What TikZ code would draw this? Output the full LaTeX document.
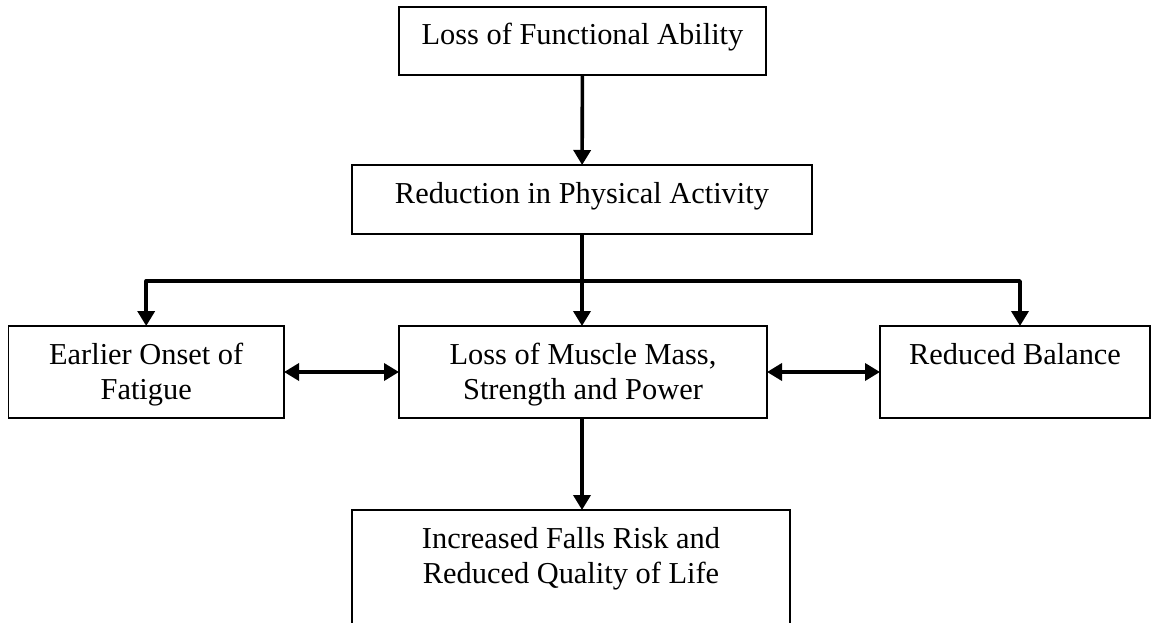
\documentclass[tikz,border=0pt]{standalone}
\usepackage{fontspec}
\setmainfont{Liberation Serif}
\usetikzlibrary{arrows.meta}
\newcommand{\bx}[3]{\parbox[c][#2][t]{#1}{\centering\rule{0pt}{38pt}#3\par}}
\begin{document}
\begin{tikzpicture}[x=1pt,y=-1pt,
  box/.style={draw, line width=1.4pt, inner sep=0pt, outer sep=0pt, font=\fontsize{30.4}{35}\selectfont},
  conn/.style={line width=3.6pt, line join=round},
  arr/.style={conn, -{Triangle[length=15pt,width=17pt]}},
  darr/.style={conn, {Triangle[length=15pt,width=17pt]}-{Triangle[length=15pt,width=17pt]}}]
\path[use as bounding box, clip] (0,0) rectangle (1151,623);

\node[box] (a) at (582.5,41) {\bx{367pt}{68.3pt}{Loss of Functional Ability}};
\node[box] (b) at (582,199.5) {\bx{460pt}{69pt}{Reduction in Physical Activity}};
\node[box] (c) at (146.2,372) {\bx{275.7pt}{92pt}{Earlier Onset of\\Fatigue}};
\node[box] (d) at (583,372) {\bx{368pt}{92pt}{Loss of Muscle Mass,\\Strength and Power}};
\node[box] (e) at (1015,372) {\bx{270pt}{92pt}{Reduced Balance}};
\node[box] (f) at (571,575) {\bx{438pt}{130pt}{Increased Falls Risk and\\Reduced Quality of Life}};

\coordinate (j) at (582,281);
\coordinate (er) at (1020,281);

\draw[arr] (a) -- (b);
\draw[arr] (b.south) -- (b.south |- d.north);
\draw[arr] (j) -| (c.north);
\draw[arr] (j) -- (er) -- (er |- e.north);
\draw[darr] (c.east) -- (d.west);
\draw[darr] (d.east) -- (e.west);
\draw[arr] (d.south -| b.south) -- (b.south |- f.north);
\end{tikzpicture}
\end{document}
